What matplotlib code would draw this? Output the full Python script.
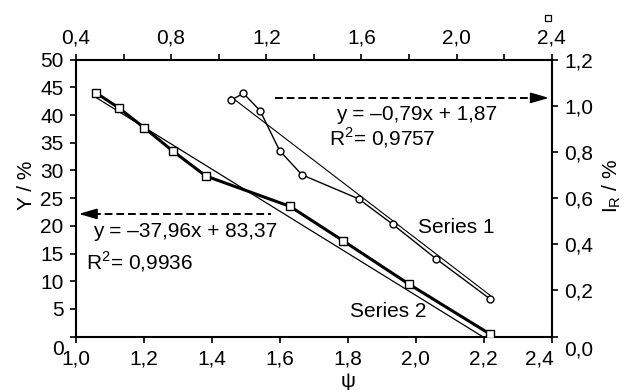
import numpy as np
import matplotlib.pyplot as plt
from matplotlib.ticker import FuncFormatter, MultipleLocator
from matplotlib.transforms import ScaledTranslation

plt.rcParams['font.family'] = ['Liberation Sans', 'DejaVu Sans']
plt.rcParams['mathtext.fontset'] = 'custom'
plt.rcParams['mathtext.rm'] = 'Liberation Sans'

# Series 2: psi (bottom axis) vs Y / % (left axis)
psi_s2 = [1.059, 1.126, 1.201, 1.285, 1.382, 1.630, 1.786, 1.979, 2.217]
y_s2 = [44.0, 41.3, 37.7, 33.5, 29.0, 23.5, 17.3, 9.5, 0.5]
fit_s2 = (-37.96, 83.37)

# Series 1: top axis vs I_R / % (right axis)
x_s1 = [1.050, 1.104, 1.174, 1.256, 1.350, 1.588, 1.731, 1.914, 2.142]
ir_s1 = [1.024, 1.054, 0.979, 0.806, 0.701, 0.597, 0.487, 0.337, 0.162]
fit_s1 = (-0.79, 1.87)

FS = 15


def comma(v, pos):
    return '{:.1f}'.format(v).replace('.', ',')


fig = plt.figure(figsize=(6.33, 3.9), dpi=100)
ax = fig.add_axes([0.120, 0.137, 0.7516, 0.710])
ax2 = fig.add_axes(ax.get_position(), frameon=False)

# series 2 + linear trend
ax.plot(psi_s2, y_s2, color='black', lw=2.2, marker='s', ms=5.5,
        mfc='white', mec='black', mew=1.0, zorder=3)
xf = np.array([psi_s2[0], psi_s2[-1]])
ax.plot(xf, fit_s2[0] * xf + fit_s2[1], color='black', lw=0.9, zorder=2)

# series 1 + linear trend
ax2.plot(x_s1, ir_s1, color='black', lw=1.0, marker='o', ms=5,
         mfc='white', mec='black', mew=1.0, zorder=3)
xf1 = np.array([x_s1[0], x_s1[-1]])
ax2.plot(xf1, fit_s1[0] * xf1 + fit_s1[1], color='black', lw=0.8, zorder=2)

ax.set_xlim(1.0, 2.4)
ax.set_ylim(0, 50)
ax.xaxis.set_major_locator(MultipleLocator(0.2))
ax.yaxis.set_major_locator(MultipleLocator(5))
ax.xaxis.set_major_formatter(FuncFormatter(comma))
ax.tick_params(direction='out', length=4, width=1.2, pad=5, labelsize=FS,
               top=False, right=False)

ax2.set_xlim(0.4, 2.4)
ax2.set_ylim(0, 1.2)
ax2.xaxis.tick_top()
ax2.yaxis.tick_right()
ax2.xaxis.set_major_locator(MultipleLocator(0.4))
ax2.xaxis.set_minor_locator(MultipleLocator(0.2))
ax2.yaxis.set_major_locator(MultipleLocator(0.2))
ax2.xaxis.set_major_formatter(FuncFormatter(comma))
ax2.yaxis.set_major_formatter(FuncFormatter(comma))
ax2.tick_params(which='both', direction='out', length=4, width=1.2, pad=5,
                labelsize=FS)

for s in ax.spines.values():
    s.set_linewidth(1.5)

# nudge the corner labels the way the original has them
fig.canvas.draw()
down = ScaledTranslation(0, -8 / 72, fig.dpi_scale_trans)
for lab in ax.get_yticklabels():
    if lab.get_text() == '0':
        lab.set_transform(lab.get_transform() + down)
for lab in ax2.get_yticklabels():
    if lab.get_text() == '0,0':
        lab.set_transform(lab.get_transform() + down)
for lab in ax.get_xticklabels():
    if lab.get_text() == '2,4':
        lab.set_transform(lab.get_transform() + ScaledTranslation(-9 / 72, 0, fig.dpi_scale_trans))

# dashed arrows pointing to the axis each series belongs to
head = '-|>,head_length=1.1,head_width=0.32'
ax.plot([0.418, 0.965], [0.862, 0.862], transform=ax.transAxes, color='black',
        lw=1.4, ls=(0, (4, 2)), clip_on=False)
ax.annotate('', xy=(1.0, 0.862), xytext=(0.95, 0.862), xycoords='axes fraction',
            arrowprops=dict(arrowstyle=head, color='black', lw=1.2))
ax.plot([0.035, 0.411], [0.443, 0.443], transform=ax.transAxes, color='black',
        lw=1.4, ls=(0, (4, 2)), clip_on=False)
ax.annotate('', xy=(0.0, 0.443), xytext=(0.05, 0.443), xycoords='axes fraction',
            arrowprops=dict(arrowstyle=head, color='black', lw=1.2))

ax.text(0.547, 0.801, 'y = \u20130,79x + 1,87', transform=ax.transAxes,
        fontsize=FS, va='center', ha='left')
ax.text(0.532, 0.718, r'R$^{\mathregular{2}}$= 0,9757', transform=ax.transAxes,
        fontsize=FS, va='center', ha='left')
ax.text(0.035, 0.379, 'y = \u201337,96x + 83,37', transform=ax.transAxes,
        fontsize=FS, va='center', ha='left')
ax.text(0.021, 0.271, r'R$^{\mathregular{2}}$= 0,9936', transform=ax.transAxes,
        fontsize=FS, va='center', ha='left')
ax.text(0.719, 0.393, 'Series 1', transform=ax.transAxes,
        fontsize=FS, va='center', ha='left')
ax.text(0.576, 0.090, 'Series 2', transform=ax.transAxes,
        fontsize=FS, va='center', ha='left')

ax.text(0.572, -0.162, '\u03c8', transform=ax.transAxes, fontsize=FS,
        ha='center', va='center')
ax.text(-0.105, 0.548, 'Y / %', transform=ax.transAxes, fontsize=FS,
        ha='center', va='center', rotation=90)
ax.text(1.127, 0.544, r'$\mathregular{I_R}$ / %', transform=ax.transAxes,
        fontsize=FS, ha='center', va='center', rotation=90)

# stray legend key in the top right corner
ax.plot([0.866], [0.953], transform=fig.transFigure, marker='s', ms=4.5,
        mfc='white', mec='black', mew=0.9, clip_on=False)

fig.savefig('out.png', dpi=100)
